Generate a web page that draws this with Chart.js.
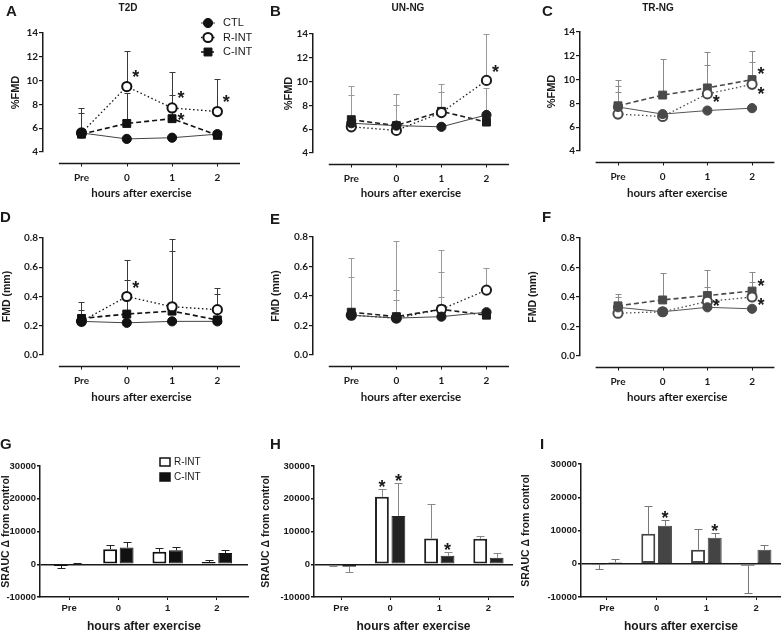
<!DOCTYPE html>
<html>
<head>
<meta charset="utf-8">
<script src="https://cdn.jsdelivr.net/npm/chart.js@4.4.1/dist/chart.umd.min.js"></script>
<style>
body { margin: 0; background: #fff; }
#fig { position: relative; width: 781px; height: 634px; overflow: hidden; font-family: "Liberation Sans", Arial, sans-serif; color: #1a1a1a; }
#fig canvas { position: absolute; }
.lt { position: absolute; font-weight: bold; font-size: 15px; line-height: 15px; }
.tt { position: absolute; font-weight: bold; font-size: 10px; line-height: 10px; transform: translateX(-50%); white-space: nowrap; }
</style>
</head>
<body>
<div id="fig">
  <canvas id="cA" width="260" height="205" style="left:0;top:0"></canvas>
  <canvas id="cB" width="260" height="205" style="left:260px;top:0"></canvas>
  <canvas id="cC" width="261" height="205" style="left:520px;top:0"></canvas>
  <canvas id="cD" width="260" height="210" style="left:0;top:205px"></canvas>
  <canvas id="cE" width="260" height="210" style="left:260px;top:205px"></canvas>
  <canvas id="cF" width="261" height="210" style="left:520px;top:205px"></canvas>
  <canvas id="cG" width="260" height="219" style="left:0;top:415px"></canvas>
  <canvas id="cH" width="260" height="219" style="left:260px;top:415px"></canvas>
  <canvas id="cI" width="261" height="219" style="left:520px;top:415px"></canvas>

  <div class="lt" style="left:6px;top:3px">A</div>
  <div class="lt" style="left:270px;top:3px">B</div>
  <div class="lt" style="left:542px;top:3px">C</div>
  <div class="lt" style="left:0;top:209px">D</div>
  <div class="lt" style="left:270px;top:211px">E</div>
  <div class="lt" style="left:542px;top:209px">F</div>
  <div class="lt" style="left:0;top:436px">G</div>
  <div class="lt" style="left:270px;top:436px">H</div>
  <div class="lt" style="left:540px;top:436px">I</div>

  <div class="tt" style="left:128px;top:3px">T2D</div>
  <div class="tt" style="left:408px;top:3px">UN-NG</div>
  <div class="tt" style="left:658px;top:3px">TR-NG</div>
</div>

<script>
const hours = ['Pre', '0', '1', '2'];

// A - T2D, %FMD
const t2dPctCTL = [5.6, 5.1, 5.2, 5.5];
const t2dPctRINT = [5.6, 9.5, 7.7, 7.4];
const t2dPctCINT = [5.5, 6.4, 6.8, 5.4];
const t2dPctErrCTL = [null, null, null, null];
const t2dPctErrRINT = [7.7, 12.5, 10.7, 10.1];
const t2dPctErrCINT = [7.3, 9.0, 8.8, null];
const t2dPctStars = [[1, 10.7], [2, 9.0], [2, 7.1], [3, 8.6]];

// B - UN-NG, %FMD
const unPctCTL = [6.5, 6.3, 6.2, 7.2];
const unPctRINT = [6.2, 5.9, 7.4, 10.1];
const unPctCINT = [6.8, 6.3, 7.5, 6.6];
const unPctErrCTL = [null, null, null, 9.5];
const unPctErrRINT = [9.6, 9.0, 9.8, 14.0];
const unPctErrCINT = [8.9, 8.0, 9.1, null];
const unPctStars = [[3, 11.2]];

// C - TR-NG, %FMD
const trPctCTL = [7.7, 7.1, 7.4, 7.6];
const trPctRINT = [7.1, 6.9, 8.8, 9.6];
const trPctCINT = [7.8, 8.7, 9.3, 10.0];
const trPctErrCTL = [9.0, null, null, null];
const trPctErrRINT = [10.0, null, 11.2, 11.5];
const trPctErrCINT = [9.5, 11.7, 12.3, 12.4];
const trPctStars = [[3, 10.9], [3, 9.2], [2, 8.5]];

// D - T2D, FMD (mm)
const t2dMmCTL = [0.23, 0.22, 0.23, 0.23];
const t2dMmRINT = [0.23, 0.40, 0.33, 0.31];
const t2dMmCINT = [0.25, 0.28, 0.30, 0.24];
const t2dMmErrCTL = [null, null, null, null];
const t2dMmErrRINT = [0.36, 0.65, 0.79, 0.46];
const t2dMmErrCINT = [0.31, 0.51, 0.71, 0.42];
const t2dMmStars = [[1, 0.49]];

// E - UN-NG, FMD (mm)
const unMmCTL = [0.27, 0.25, 0.26, 0.29];
const unMmRINT = [0.27, 0.25, 0.31, 0.44];
const unMmCINT = [0.29, 0.26, 0.31, 0.27];
const unMmErrCTL = [null, 0.37, 0.39, null];
const unMmErrRINT = [0.66, 0.77, 0.71, 0.59];
const unMmErrCINT = [0.53, 0.44, 0.56, null];
const unMmStars = [];

// F - TR-NG, FMD (mm)
const trMmCTL = [0.33, 0.30, 0.33, 0.32];
const trMmRINT = [0.29, 0.30, 0.37, 0.40];
const trMmCINT = [0.34, 0.38, 0.41, 0.44];
const trMmErrCTL = [null, null, null, null];
const trMmErrRINT = [0.40, null, 0.47, 0.50];
const trMmErrCINT = [0.42, 0.56, 0.58, 0.57];
const trMmStars = [[3, 0.51], [3, 0.38], [2, 0.37]];

// G-I - SRAUC change from control (bars)
const t2dSrRINT = [-500, 4600, 3800, 700];
const t2dSrCINT = [300, 5100, 4300, 3400];
const t2dSrErrRINT = [-1100, 5900, 4900, 1300];
const t2dSrErrCINT = [500, 6800, 5300, 4300];
const t2dSrStars = [];

const unSrRINT = [-300, 20600, 7900, 7800];
const unSrCINT = [-800, 14700, 2600, 2000];
const unSrErrRINT = [-500, 22900, 18300, 8600];
const unSrErrCINT = [-2300, 24700, 3800, 3400];
const unSrStars = [[0, 1], [1, 1], [1, 2]];

const trSrRINT = [-400, 9000, 4200, -600];
const trSrCINT = [400, 11400, 7800, 4200];
const trSrErrRINT = [-1500, 17500, 10500, -8700];
const trSrErrCINT = [1500, 13200, 9100, 5500];
const trSrStars = [[1, 1], [1, 2]];

const ink = '#1a1a1a';
const pts = arr => arr.map((v, i) => ({x: i, y: v}));

// GraphPad style detached x axis under the line panels
const offsetXAxis = {
  id: 'offsetXAxis',
  afterDraw(chart, args, o) {
    if (!o.gap) return;
    const {ctx, chartArea, scales: {x}} = chart;
    const y = Math.round(chartArea.bottom + o.gap) + 0.5;
    ctx.save();
    ctx.strokeStyle = ink;
    ctx.lineWidth = 1.5;
    ctx.beginPath();
    ctx.moveTo(x.getPixelForValue(-0.5), y);
    ctx.lineTo(x.getPixelForValue(hours.length - 0.5), y);
    ctx.stroke();
    ctx.lineWidth = 1;
    ctx.beginPath();
    hours.forEach((h, i) => {
      const px = Math.round(x.getPixelForValue(i)) + 0.5;
      ctx.moveTo(px, y);
      ctx.lineTo(px, y + 3);
    });
    ctx.stroke();
    ctx.restore();
  }
};

// one-sided error bars, drawn from the mark to the end value
const errorBars = {
  id: 'errorBars',
  beforeDatasetsDraw(chart, args, o) {
    const {ctx, scales: {y}} = chart;
    ctx.save();
    ctx.lineWidth = 1;
    chart.data.datasets.forEach((ds, di) => {
      if (!ds.errEnd) return;
      const meta = chart.getDatasetMeta(di);
      ctx.strokeStyle = ds.errColor;
      meta.data.forEach((el, i) => {
        const e = ds.errEnd[i];
        if (e === null || e === undefined) return;
        const px = Math.round(el.x) + 0.5;
        const ey = Math.round(y.getPixelForValue(e)) + 0.5;
        ctx.beginPath();
        ctx.moveTo(px, el.y);
        ctx.lineTo(px, ey);
        ctx.moveTo(px - o.cap, ey);
        ctx.lineTo(px + o.cap, ey);
        ctx.stroke();
      });
    });
    ctx.restore();
  }
};

const stars = {
  id: 'stars',
  afterDatasetsDraw(chart, args, o) {
    const {ctx, scales: {x, y}} = chart;
    ctx.save();
    ctx.fillStyle = ink;
    ctx.font = 'bold 18px "Liberation Sans"';
    ctx.textAlign = 'center';
    ctx.textBaseline = 'alphabetic';
    (o.points || []).forEach(([i, v]) => {
      ctx.fillText('*', x.getPixelForValue(i) + o.dx, y.getPixelForValue(v) + 11);
    });
    (o.bars || []).forEach(([di, i]) => {
      const ds = chart.data.datasets[di];
      const el = chart.getDatasetMeta(di).data[i];
      ctx.fillText('*', el.x, y.getPixelForValue(ds.errEnd[i]) + 4);
    });
    ctx.restore();
  }
};

// small key, built from the dataset styles
const keyBox = {
  id: 'keyBox',
  afterDraw(chart, args, o) {
    if (!o.x) return;
    const ctx = chart.ctx;
    ctx.save();
    ctx.font = o.font;
    ctx.textBaseline = 'middle';
    ctx.textAlign = 'left';
    chart.data.datasets.forEach((ds, k) => {
      const cy = o.y + k * o.step;
      if (chart.config.type === 'line') {
        ctx.strokeStyle = ds.borderColor;
        ctx.lineWidth = ds.borderWidth;
        ctx.setLineDash(ds.borderDash || []);
        ctx.beginPath();
        ctx.moveTo(o.x - 7, cy);
        ctx.lineTo(o.x + 7, cy);
        ctx.stroke();
        ctx.setLineDash([]);
        ctx.fillStyle = ds.pointBackgroundColor;
        ctx.strokeStyle = ds.pointBorderColor;
        ctx.lineWidth = ds.pointBorderWidth || 1;
        ctx.beginPath();
        if (ds.pointStyle === 'rect') {
          const s = ds.pointRadius * Math.SQRT1_2;
          ctx.rect(o.x - s, cy - s, 2 * s, 2 * s);
        } else {
          ctx.arc(o.x, cy, ds.pointRadius, 0, Math.PI * 2);
        }
        ctx.fill();
        ctx.stroke();
      } else {
        ctx.fillStyle = ds.backgroundColor;
        ctx.strokeStyle = ds.borderColor;
        ctx.lineWidth = 1.5;
        ctx.fillRect(o.x - 5, cy - 4, 10, 8);
        ctx.strokeRect(o.x - 5, cy - 4, 10, 8);
      }
      ctx.fillStyle = ink;
      ctx.fillText(ds.label, o.x + o.textDx, cy);
    });
    ctx.restore();
  }
};

const lineTick = {family: 'Lato', weight: 'bold', size: 10};
const lineXTitle = {family: 'Lato', weight: 'bold', size: 11.5};
const barTick = {family: 'Liberation Sans', weight: 'bold', size: 9.5};
const barXTitle = {family: 'Liberation Sans', weight: 'bold', size: 12};

function linePanel(id, p) {
  const c = p.col;
  const base = {fill: false, tension: 0, clip: false, pointHoverRadius: 0};
  const datasets = [
    Object.assign({}, base, {label: 'CTL', data: pts(p.ctl), borderColor: c.line, borderWidth: 1,
      pointStyle: 'circle', pointRadius: 4.6, pointBorderWidth: 1,
      pointBackgroundColor: c.mark, pointBorderColor: c.mark, errEnd: p.err[0], errColor: c.err}),
    Object.assign({}, base, {label: 'R-INT', data: pts(p.rint), borderColor: c.mark, borderWidth: 1.3,
      borderDash: [1.5, 2.5], pointStyle: 'circle', pointRadius: 4.6, pointBorderWidth: 2,
      pointBackgroundColor: '#fff', pointBorderColor: c.mark, errEnd: p.err[1], errColor: c.err}),
    Object.assign({}, base, {label: 'C-INT', data: pts(p.cint), borderColor: c.mark, borderWidth: 1.6,
      borderDash: [5, 3], pointStyle: 'rect', pointRadius: 5.6, pointBorderWidth: 1,
      pointBackgroundColor: c.mark, pointBorderColor: c.mark, errEnd: p.err[2], errColor: c.err})
  ];
  return new Chart(document.getElementById(id), {
    type: 'line',
    data: {datasets: datasets},
    plugins: [offsetXAxis, errorBars, stars, keyBox],
    options: {
      responsive: false,
      animation: false,
      events: [],
      layout: {padding: {top: p.padTop, right: p.padRight, left: 0, bottom: 0}},
      plugins: {
        legend: {display: false},
        tooltip: {enabled: false},
        offsetXAxis: {gap: 11},
        errorBars: {cap: 3},
        stars: {points: p.stars, dx: 9},
        keyBox: p.key || {}
      },
      scales: {
        x: {
          type: 'linear', min: -0.85, max: 3.5,
          afterBuildTicks: s => { s.ticks = hours.map((h, i) => ({value: i})); },
          afterFit: s => { s.height = p.xH; },
          grid: {display: false, drawTicks: false},
          border: {display: false},
          ticks: {callback: v => hours[v], padding: 20, font: lineTick, color: ink, autoSkip: false, maxRotation: 0},
          title: {display: true, text: 'hours after exercise', font: lineXTitle, color: ink,
            padding: {top: 0, bottom: p.xTitlePad}}
        },
        y: {
          min: p.yMin, max: p.yMax,
          afterFit: s => { s.width = p.yW; },
          ticks: {stepSize: p.yStep, callback: v => v.toFixed(p.digits), font: lineTick, color: ink, padding: 1},
          grid: {drawOnChartArea: false, drawTicks: true, tickLength: 4, color: ink, lineWidth: 1.2},
          border: {display: true, color: ink, width: 1.5},
          title: {display: true, text: p.yTitle, color: ink,
            font: {family: 'Liberation Sans', weight: 'bold', size: p.yTitleSize},
            padding: {top: p.yTitlePad, bottom: 0}}
        }
      }
    }
  });
}

function barPanel(id, p) {
  const c = p.col;
  const datasets = [
    {label: 'R-INT', data: pts(p.rint), backgroundColor: '#fff', borderColor: c.bar, borderWidth: 2,
      borderSkipped: false, errEnd: p.err[0], errColor: c.err},
    {label: 'C-INT', data: pts(p.cint), backgroundColor: c.bar, borderColor: c.bar, borderWidth: 1,
      borderSkipped: false, errEnd: p.err[1], errColor: c.err}
  ];
  return new Chart(document.getElementById(id), {
    type: 'bar',
    data: {datasets: datasets},
    plugins: [errorBars, stars, keyBox],
    options: {
      responsive: false,
      animation: false,
      events: [],
      barPercentage: 0.84,
      categoryPercentage: 0.67,
      layout: {padding: {top: p.padTop, right: p.padRight, left: 0, bottom: 0}},
      plugins: {
        legend: {display: false},
        tooltip: {enabled: false},
        errorBars: {cap: 4},
        stars: {bars: p.stars},
        keyBox: p.key || {}
      },
      scales: {
        x: {
          type: 'linear', min: p.xMin, max: p.xMax, offset: false,
          afterBuildTicks: s => { s.ticks = hours.map((h, i) => ({value: i})); },
          afterFit: s => { s.height = 37; },
          grid: {display: true, drawOnChartArea: false, drawTicks: true, tickLength: 3, offset: false, color: ink},
          border: {display: true, color: ink, width: 1.5},
          ticks: {callback: v => hours[v], padding: 3, font: barTick, color: ink, autoSkip: false, maxRotation: 0},
          title: {display: true, text: 'hours after exercise', font: barXTitle, color: ink, padding: {top: 0, bottom: 0}}
        },
        y: {
          min: -10000, max: 30000,
          afterFit: s => { s.width = p.yW; },
          ticks: {stepSize: 10000, callback: v => String(v), font: barTick, color: ink, padding: 1},
          grid: {drawOnChartArea: true, drawTicks: true, tickLength: 3,
            color: g => (g.tick && g.tick.value === 0 ? ink : 'rgba(0,0,0,0)'),
            tickColor: ink, lineWidth: 1.5},
          border: {display: true, color: ink, width: 1.5},
          title: {display: true, text: 'SRAUC \u0394 from control', color: ink,
            font: {family: 'Liberation Sans', weight: 'bold', size: 10.5},
            padding: {top: 0, bottom: 0}}
        }
      }
    }
  });
}

const colBlack = {mark: '#111', line: '#444', err: '#3a3a3a'};
const colUN = {mark: '#1c1c1c', line: '#444', err: '#999'};
const colTR = {mark: '#4a4a4a', line: '#555', err: '#8a8a8a'};

const pctAxis = {yMin: 4, yMax: 14, yStep: 2, digits: 0, yTitle: '%FMD', yTitleSize: 11};
const mmAxis = {yMin: 0, yMax: 0.8, yStep: 0.2, digits: 1, yTitle: 'FMD (mm)', yTitleSize: 10.5};

linePanel('cA', Object.assign({}, pctAxis, {
  ctl: t2dPctCTL, rint: t2dPctRINT, cint: t2dPctCINT,
  err: [t2dPctErrCTL, t2dPctErrRINT, t2dPctErrCINT], stars: t2dPctStars, col: colBlack,
  yW: 43, padTop: 33, padRight: 20, xH: 53, xTitlePad: 5, yTitlePad: 9,
  key: {x: 208, y: 23, step: 14.5, textDx: 15, font: '11px "Liberation Sans"'}
}));
linePanel('cB', Object.assign({}, pctAxis, {
  ctl: unPctCTL, rint: unPctRINT, cint: unPctCINT,
  err: [unPctErrCTL, unPctErrRINT, unPctErrCINT], stars: unPctStars, col: colUN,
  yW: 53, padTop: 34, padRight: 11, xH: 52, xTitlePad: 5, yTitlePad: 22
}));
linePanel('cC', Object.assign({}, pctAxis, {
  ctl: trPctCTL, rint: trPctRINT, cint: trPctCINT,
  err: [trPctErrCTL, trPctErrRINT, trPctErrCINT], stars: trPctStars, col: colTR,
  yW: 60, padTop: 32, padRight: 2, xH: 54, xTitlePad: 5, yTitlePad: 25
}));
linePanel('cD', Object.assign({}, mmAxis, {
  ctl: t2dMmCTL, rint: t2dMmRINT, cint: t2dMmCINT,
  err: [t2dMmErrCTL, t2dMmErrRINT, t2dMmErrCINT], stars: t2dMmStars, col: colBlack,
  yW: 43, padTop: 33, padRight: 20, xH: 60, xTitlePad: 11, yTitlePad: 1
}));
linePanel('cE', Object.assign({}, mmAxis, {
  ctl: unMmCTL, rint: unMmRINT, cint: unMmCINT,
  err: [unMmErrCTL, unMmErrRINT, unMmErrCINT], stars: unMmStars, col: colUN,
  yW: 53, padTop: 32, padRight: 11, xH: 60, xTitlePad: 11, yTitlePad: 10
}));
linePanel('cF', Object.assign({}, mmAxis, {
  ctl: trMmCTL, rint: trMmRINT, cint: trMmCINT,
  err: [trMmErrCTL, trMmErrRINT, trMmErrCINT], stars: trMmStars, col: colTR,
  yW: 60, padTop: 33, padRight: 2, xH: 59, xTitlePad: 11, yTitlePad: 7
}));

barPanel('cG', {
  rint: t2dSrRINT, cint: t2dSrCINT, err: [t2dSrErrRINT, t2dSrErrCINT], stars: t2dSrStars,
  col: {bar: '#111', err: '#222'}, xMin: -0.59, xMax: 3.63, yW: 40, padTop: 51, padRight: 12,
  key: {x: 165, y: 47, step: 15, textDx: 9, font: '10px "Liberation Sans"'}
});
barPanel('cH', {
  rint: unSrRINT, cint: unSrCINT, err: [unSrErrRINT, unSrErrCINT], stars: unSrStars,
  col: {bar: '#222', err: '#888'}, xMin: -0.55, xMax: 3.5, yW: 54, padTop: 51, padRight: 7
});
barPanel('cI', {
  rint: trSrRINT, cint: trSrCINT, err: [trSrErrRINT, trSrErrCINT], stars: trSrStars,
  col: {bar: '#444', err: '#777'}, xMin: -0.52, xMax: 3.5, yW: 61, padTop: 49, padRight: 0
});
</script>
</body>
</html>
